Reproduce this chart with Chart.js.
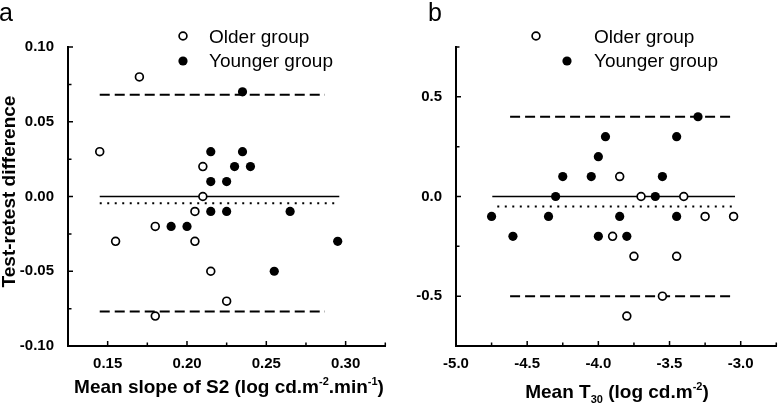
<!DOCTYPE html>
<html lang="en">
<head>
    <meta charset="UTF-8">
    <title>Test-retest difference</title>
    <style>
        body {
            margin: 0;
            width: 782px;
            height: 405px;
            position: relative;
            overflow: hidden;
            background-color: #fff;
            font-family: "Liberation Sans", Arial, sans-serif;
            color: #000;
        }
        .panel {
            position: absolute;
            top: 0;
            width: 391px;
            height: 405px;
        }
        .letter {
            position: absolute;
            top: 0;
            font-size: 25px;
            line-height: 25px;
        }
        .xtitle {
            position: absolute;
            font-size: 19px;
            line-height: 19px;
            font-weight: bold;
            white-space: nowrap;
            transform: translateX(-50%);
        }
        .ytitle {
            position: absolute;
            left: -142px;
            top: 182px;
            width: 300px;
            height: 19px;
            font-size: 19px;
            line-height: 19px;
            font-weight: bold;
            text-align: center;
            white-space: nowrap;
            transform: rotate(-90deg);
        }
        sup { font-size: 11px; line-height: 0; vertical-align: 8px; }
        sub { font-size: 11px; line-height: 0; vertical-align: -5px; }
    </style>
</head>
<body>
    <div class="panel" style="left:0"><canvas id="chartA" width="391" height="405"></canvas></div>
    <div class="panel" style="left:391px"><canvas id="chartB" width="391" height="405"></canvas></div>

    <div class="letter" style="left:-1px">a</div>
    <div class="letter" style="left:428px">b</div>
    <div class="ytitle">Test-retest difference</div>
    <div class="xtitle" style="left:229px; top:377px">Mean slope of S2 (log cd.m<sup>-2</sup>.min<sup>-1</sup>)</div>
    <div class="xtitle" style="left:617px; top:382px">Mean T<sub>30</sub> (log cd.m<sup>-2</sup>)</div>

    <script src="https://cdn.jsdelivr.net/npm/chart.js@4"></script>
    <script>
        // Panel a: mean slope of S2
        const olderA_x = [0.145, 0.17, 0.21, 0.21, 0.205, 0.18, 0.155, 0.205, 0.215, 0.225, 0.18];
        const olderA_y = [0.03, 0.08, 0.02, 0.00, -0.01, -0.02, -0.03, -0.03, -0.05, -0.07, -0.08];
        const youngerA_x = [0.235, 0.215, 0.235, 0.23, 0.24, 0.215, 0.225, 0.215, 0.225, 0.265, 0.19, 0.20, 0.295, 0.255];
        const youngerA_y = [0.07, 0.03, 0.03, 0.02, 0.02, 0.01, 0.01, -0.01, -0.01, -0.01, -0.02, -0.02, -0.03, -0.05];
        const biasA = -0.0045;
        const upperLoaA = 0.068;
        const lowerLoaA = -0.077;
        const zeroSpanA = [0.145, 0.296];
        const biasSpanA = [0.145, 0.296];
        const loaSpanA = [0.145, 0.287];

        // Panel b: mean T30
        const olderB_x = [-3.85, -3.70, -3.40, -3.25, -3.05, -3.90, -3.75, -3.45, -3.55, -3.80];
        const olderB_y = [0.1, 0.0, 0.0, -0.1, -0.1, -0.2, -0.3, -0.3, -0.5, -0.6];
        const youngerB_x = [-3.30, -3.95, -3.45, -4.00, -4.25, -4.05, -3.55, -4.30, -3.60, -4.75, -4.35, -3.85, -3.45, -4.60, -4.00, -3.80];
        const youngerB_y = [0.4, 0.3, 0.3, 0.2, 0.1, 0.1, 0.1, 0.0, 0.0, -0.1, -0.1, -0.1, -0.1, -0.2, -0.2, -0.2];
        const biasB = -0.05;
        const upperLoaB = 0.40;
        const lowerLoaB = -0.50;
        const zeroSpanB = [-4.745, -3.04];
        const biasSpanB = [-4.71, -3.04];
        const loaSpanB = [-4.62, -3.04];

        const FONT = '"Liberation Sans", Arial, sans-serif';

        const points = (xs, ys) => xs.map((x, i) => ({x: x, y: ys[i]}));
        const segment = (span, y) => [{x: span[0], y: y}, {x: span[1], y: y}];
        const isMajor = (v, major) => Math.abs(v / major - Math.round(v / major)) < 1e-6;
        const fmt = (v, d) => (Math.abs(v) < 1e-9 ? 0 : v).toFixed(d);

        // small inward tick marks on both axes
        const inTicks = {
            id: 'inTicks',
            afterDraw(chart) {
                const ctx = chart.ctx;
                const area = chart.chartArea;
                const xs = chart.scales.x, ys = chart.scales.y;
                ctx.save();
                ctx.strokeStyle = '#000';
                ctx.lineWidth = 1.5;
                ctx.beginPath();
                xs.ticks.forEach(t => {
                    const px = xs.getPixelForValue(t.value);
                    const len = t.label ? 5 : 3.5;
                    ctx.moveTo(px, area.bottom);
                    ctx.lineTo(px, area.bottom - len);
                });
                ys.ticks.forEach(t => {
                    const py = ys.getPixelForValue(t.value);
                    const len = t.label ? 5 : 3.5;
                    ctx.moveTo(area.left, py);
                    ctx.lineTo(area.left + len, py);
                });
                ctx.stroke();
                ctx.restore();
            }
        };

        // legend drawn from the dataset styles
        const groupLegend = {
            id: 'groupLegend',
            afterDraw(chart, args, opts) {
                const ctx = chart.ctx;
                ctx.save();
                opts.items.forEach(item => {
                    const ds = chart.data.datasets[item.dataset];
                    ctx.beginPath();
                    ctx.arc(item.markerX, item.markerY, ds.pointRadius, 0, Math.PI * 2);
                    ctx.fillStyle = ds.pointBackgroundColor;
                    ctx.fill();
                    if (ds.pointBorderWidth > 0) {
                        ctx.lineWidth = ds.pointBorderWidth;
                        ctx.strokeStyle = ds.pointBorderColor;
                        ctx.stroke();
                    }
                    ctx.fillStyle = '#000';
                    ctx.font = '19px ' + FONT;
                    ctx.textBaseline = 'alphabetic';
                    ctx.textAlign = 'left';
                    ctx.fillText(ds.label, item.textX, item.baseline);
                });
                ctx.restore();
            }
        };

        function makePanel(id, p) {
            return new Chart(document.getElementById(id), {
                type: 'scatter',
                data: {
                    datasets: [
                        {
                            label: 'Older group',
                            data: points(p.olderX, p.olderY),
                            pointRadius: 3.9,
                            pointBackgroundColor: '#fff',
                            pointBorderColor: '#000',
                            pointBorderWidth: 1.7
                        },
                        {
                            label: 'Younger group',
                            data: points(p.youngerX, p.youngerY),
                            pointRadius: 4.6,
                            pointBackgroundColor: '#000',
                            pointBorderColor: '#000',
                            pointBorderWidth: 0
                        },
                        {
                            type: 'line',
                            label: 'zero',
                            data: segment(p.zeroSpan, 0),
                            borderColor: '#000',
                            borderWidth: 1.4,
                            pointRadius: 0
                        },
                        {
                            type: 'line',
                            label: 'bias',
                            data: segment(p.biasSpan, p.bias),
                            borderColor: '#000',
                            borderWidth: 2,
                            borderDash: [2, 5.5],
                            pointRadius: 0
                        },
                        {
                            type: 'line',
                            label: 'upper',
                            data: segment(p.loaSpan, p.upper),
                            borderColor: '#000',
                            borderWidth: 2,
                            borderDash: [10, 5],
                            pointRadius: 0
                        },
                        {
                            type: 'line',
                            label: 'lower',
                            data: segment(p.loaSpan, p.lower),
                            borderColor: '#000',
                            borderWidth: 2,
                            borderDash: [10, 5],
                            pointRadius: 0
                        }
                    ]
                },
                options: {
                    responsive: false,
                    animation: false,
                    devicePixelRatio: 1,
                    layout: { padding: { left: 0, top: 47, right: p.padRight, bottom: 0 } },
                    plugins: {
                        legend: { display: false },
                        tooltip: { enabled: false },
                        groupLegend: { items: p.legend }
                    },
                    scales: {
                        x: {
                            type: 'linear',
                            min: p.xMin,
                            max: p.xMax,
                            grid: { display: false },
                            border: { display: true, color: '#000', width: 2 },
                            ticks: {
                                stepSize: p.xStep,
                                autoSkip: false,
                                maxRotation: 0,
                                padding: 1,
                                color: '#000',
                                font: { family: FONT, size: 15, weight: 'bold' },
                                callback: v => isMajor(v, p.xMajor) ? fmt(v, p.digits) : ''
                            },
                            afterFit: s => { s.height = 59; }
                        },
                        y: {
                            type: 'linear',
                            min: p.yMin,
                            max: p.yMax,
                            grid: { display: false },
                            border: { display: true, color: '#000', width: 2 },
                            ticks: {
                                stepSize: p.yStep,
                                autoSkip: false,
                                padding: 6,
                                color: '#000',
                                font: { family: FONT, size: 15, weight: 'bold' },
                                callback: v => isMajor(v, p.yMajor) ? fmt(v, p.digits) : ''
                            },
                            afterFit: s => { s.width = p.yWidth; }
                        }
                    }
                },
                plugins: [inTicks, groupLegend]
            });
        }

        makePanel('chartA', {
            olderX: olderA_x, olderY: olderA_y,
            youngerX: youngerA_x, youngerY: youngerA_y,
            bias: biasA, upper: upperLoaA, lower: lowerLoaA,
            zeroSpan: zeroSpanA, biasSpan: biasSpanA, loaSpan: loaSpanA,
            xMin: 0.125, xMax: 0.325, xStep: 0.025, xMajor: 0.05,
            yMin: -0.1, yMax: 0.1, yStep: 0.025, yMajor: 0.05,
            digits: 2, yWidth: 68, padRight: 1,
            legend: [
                { dataset: 0, markerX: 183, markerY: 36, textX: 209, baseline: 43 },
                { dataset: 1, markerX: 183, markerY: 61, textX: 209, baseline: 67 }
            ]
        });

        makePanel('chartB', {
            olderX: olderB_x, olderY: olderB_y,
            youngerX: youngerB_x, youngerY: youngerB_y,
            bias: biasB, upper: upperLoaB, lower: lowerLoaB,
            zeroSpan: zeroSpanB, biasSpan: biasSpanB, loaSpan: loaSpanB,
            xMin: -5, xMax: -2.75, xStep: 0.25, xMajor: 0.5,
            yMin: -0.75, yMax: 0.75, yStep: 0.25, yMajor: 0.5,
            digits: 1, yWidth: 65, padRight: 3,
            legend: [
                { dataset: 0, markerX: 145, markerY: 36, textX: 203, baseline: 43 },
                { dataset: 1, markerX: 176, markerY: 61, textX: 203, baseline: 67 }
            ]
        });
    </script>
</body>
</html>
